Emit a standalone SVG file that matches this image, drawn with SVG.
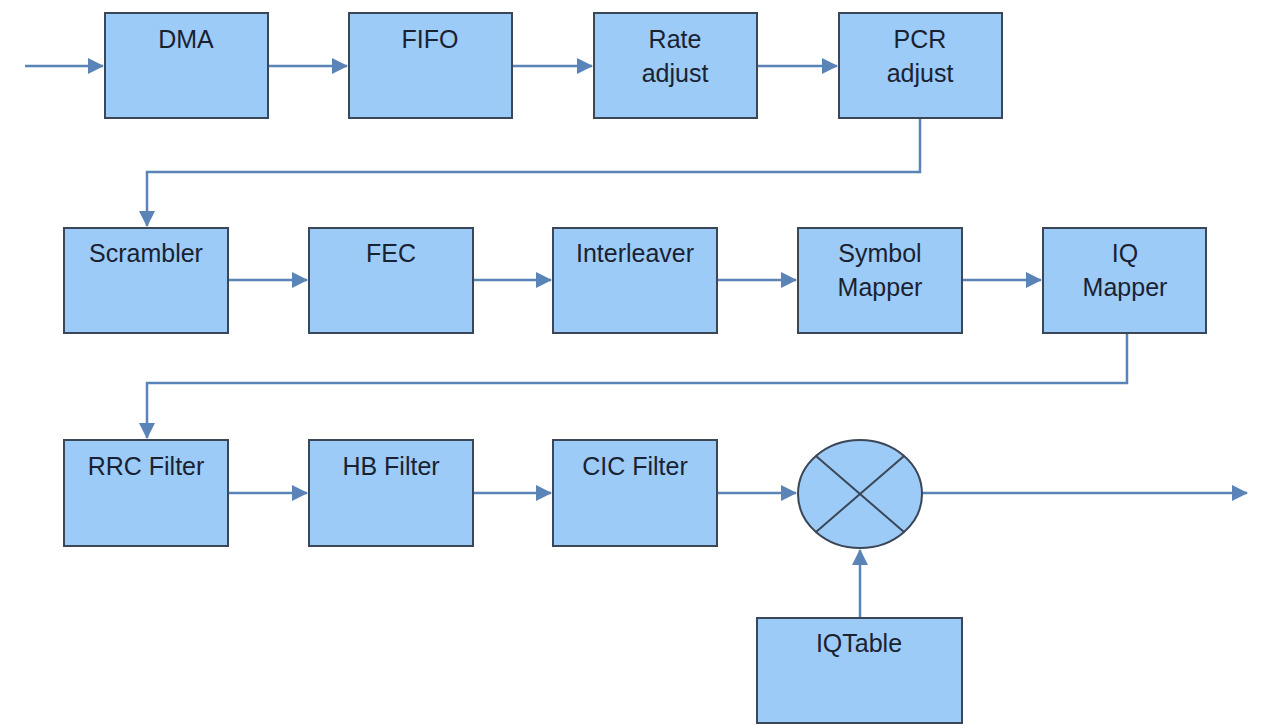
<svg xmlns="http://www.w3.org/2000/svg" width="1280" height="728" viewBox="0 0 1280 728">
<style>
.box{fill:#9ccbf7;stroke:#3b4656;stroke-width:2}
.lbl{font-family:"Liberation Sans",Arial,sans-serif;font-size:25px;fill:#1a2232;text-anchor:middle}
.con{fill:none;stroke:#5a84b8;stroke-width:2.5}
.x{stroke:#3b4656;stroke-width:2}
</style>
<defs>
<marker id="ah" viewBox="0 0 16 16" refX="15" refY="8" markerWidth="16" markerHeight="16" markerUnits="userSpaceOnUse" orient="auto">
<path d="M0,0 L16,8 L0,16 z" fill="#5a84b8"/>
</marker>
</defs>
<rect width="1280" height="728" fill="#ffffff"/>
<g id="connectors">
<path class="con" d="M25,66 H103" marker-end="url(#ah)"/>
<path class="con" d="M268,66 H347" marker-end="url(#ah)"/>
<path class="con" d="M512,66 H592" marker-end="url(#ah)"/>
<path class="con" d="M757,66 H837" marker-end="url(#ah)"/>
<path class="con" d="M920,118 V172 H147 V226" marker-end="url(#ah)"/>
<path class="con" d="M228,280 H307" marker-end="url(#ah)"/>
<path class="con" d="M473,280 H551" marker-end="url(#ah)"/>
<path class="con" d="M717,280 H796" marker-end="url(#ah)"/>
<path class="con" d="M962,280 H1041" marker-end="url(#ah)"/>
<path class="con" d="M1127,333 V383 H147 V438" marker-end="url(#ah)"/>
<path class="con" d="M228,493 H307" marker-end="url(#ah)"/>
<path class="con" d="M473,493 H551" marker-end="url(#ah)"/>
<path class="con" d="M717,493 H796" marker-end="url(#ah)"/>
<path class="con" d="M922,493 H1247" marker-end="url(#ah)"/>
<path class="con" d="M860,618 V550" marker-end="url(#ah)"/>
</g>
<g id="dma"><rect class="box" x="105" y="13" width="163" height="105"/><text class="lbl" x="186" y="48">DMA</text></g>
<g id="fifo"><rect class="box" x="349" y="13" width="163" height="105"/><text class="lbl" x="430" y="48">FIFO</text></g>
<g id="rate-adjust"><rect class="box" x="594" y="13" width="163" height="105"/><text class="lbl" x="675" y="48">Rate</text><text class="lbl" x="675" y="82">adjust</text></g>
<g id="pcr-adjust"><rect class="box" x="839" y="13" width="163" height="105"/><text class="lbl" x="920" y="48">PCR</text><text class="lbl" x="920" y="82">adjust</text></g>
<g id="scrambler"><rect class="box" x="64" y="228" width="164" height="105"/><text class="lbl" x="146" y="262">Scrambler</text></g>
<g id="fec"><rect class="box" x="309" y="228" width="164" height="105"/><text class="lbl" x="391" y="262">FEC</text></g>
<g id="interleaver"><rect class="box" x="553" y="228" width="164" height="105"/><text class="lbl" x="635" y="262">Interleaver</text></g>
<g id="symbol-mapper"><rect class="box" x="798" y="228" width="164" height="105"/><text class="lbl" x="880" y="262">Symbol</text><text class="lbl" x="880" y="296">Mapper</text></g>
<g id="iq-mapper"><rect class="box" x="1043" y="228" width="163" height="105"/><text class="lbl" x="1125" y="262">IQ</text><text class="lbl" x="1125" y="296">Mapper</text></g>
<g id="rrc-filter"><rect class="box" x="64" y="440" width="164" height="106"/><text class="lbl" x="146" y="475">RRC Filter</text></g>
<g id="hb-filter"><rect class="box" x="309" y="440" width="164" height="106"/><text class="lbl" x="391" y="475">HB Filter</text></g>
<g id="cic-filter"><rect class="box" x="553" y="440" width="164" height="106"/><text class="lbl" x="635" y="475">CIC Filter</text></g>
<g id="mixer"><ellipse class="box" cx="860" cy="494" rx="62" ry="54"/><line class="x" x1="816" y1="456" x2="904" y2="532"/><line class="x" x1="904" y1="456" x2="816" y2="532"/></g>
<g id="iqtable"><rect class="box" x="757" y="618" width="205" height="105"/><text class="lbl" x="859" y="652">IQTable</text></g>
</svg>
